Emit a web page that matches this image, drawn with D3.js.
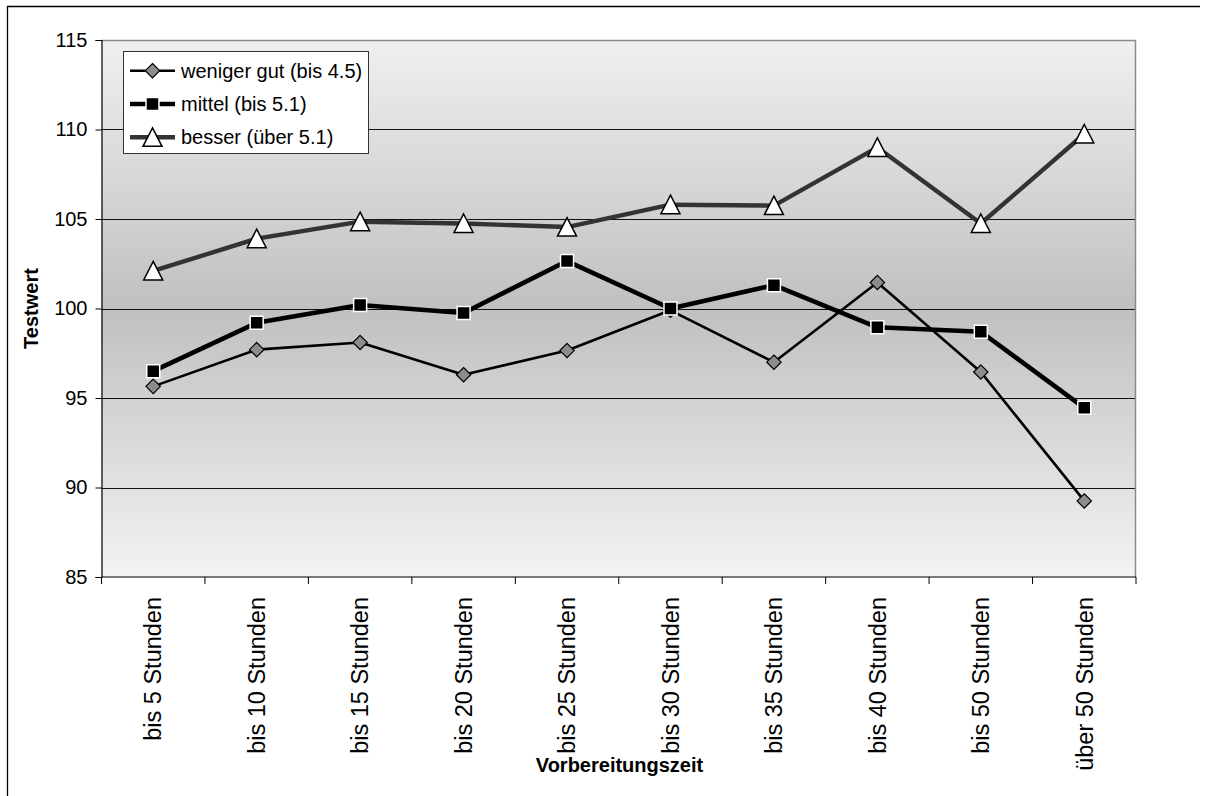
<!DOCTYPE html>
<html>
<head>
<meta charset="utf-8">
<script src="https://cdn.jsdelivr.net/npm/d3@7"></script>
<style>
  html, body { margin: 0; padding: 0; background: #fff; }
  svg { display: block; font-family: "Liberation Sans", Arial, sans-serif; }
</style>
</head>
<body>
<svg id="chart" width="1209" height="796"></svg>
<script>
// Categories (preparation time) and mean test scores per ability group
const categories = ["bis 5 Stunden", "bis 10 Stunden", "bis 15 Stunden", "bis 20 Stunden", "bis 25 Stunden",
                    "bis 30 Stunden", "bis 35 Stunden", "bis 40 Stunden", "bis 50 Stunden", "über 50 Stunden"];
const wenigerGut = [95.65, 97.7, 98.1, 96.3, 97.65, 99.9, 97.0, 101.45, 96.45, 89.25];
const mittel     = [96.5, 99.2, 100.2, 99.75, 102.65, 100.0, 101.3, 98.95, 98.7, 94.45];
const besser     = [102.1, 103.9, 104.85, 104.75, 104.55, 105.8, 105.75, 109.0, 104.75, 109.75];
const seriesNames = ["weniger gut (bis 4.5)", "mittel (bis 5.1)", "besser (über 5.1)"];
const yTicks = [85, 90, 95, 100, 105, 110, 115];
const yTitle = "Testwert";
const xTitle = "Vorbereitungszeit";

const svg = d3.select("#chart");
const plot = { left: 101.5, right: 1136, top: 40, bottom: 577 };

const x = d3.scaleBand().domain(categories).range([plot.left, plot.right]).padding(0);
const y = d3.scaleLinear().domain([85, 115]).range([plot.bottom, plot.top]);
const cx = c => x(c) + x.bandwidth() / 2;

// Outer chart frame (top and left edges)
svg.append("line").attr("x1", 7).attr("y1", 6.5).attr("x2", 1200).attr("y2", 6.5)
  .attr("stroke", "#000").attr("stroke-width", 1.3);
svg.append("line").attr("x1", 7.5).attr("y1", 6).attr("x2", 7.5).attr("y2", 796)
  .attr("stroke", "#000").attr("stroke-width", 1.3);

// Plot-area background: light at the edges, darker in the middle
const defs = svg.append("defs");
const grad = defs.append("linearGradient").attr("id", "bg").attr("x1", 0).attr("y1", 0).attr("x2", 0).attr("y2", 1);
grad.append("stop").attr("offset", "0%").attr("stop-color", "#f0f0f0");
grad.append("stop").attr("offset", "50%").attr("stop-color", "#c0c0c0");
grad.append("stop").attr("offset", "100%").attr("stop-color", "#f3f3f3");

svg.append("rect")
  .attr("x", plot.left).attr("y", plot.top)
  .attr("width", plot.right - plot.left).attr("height", plot.bottom - plot.top)
  .attr("fill", "url(#bg)");

// Gridlines
svg.append("g").selectAll("line").data(yTicks.filter(v => v > 85 && v < 115)).join("line")
  .attr("x1", plot.left).attr("x2", plot.right)
  .attr("y1", d => Math.round(y(d)) + 0.5).attr("y2", d => Math.round(y(d)) + 0.5)
  .attr("stroke", "#111").attr("stroke-width", 1);

// Plot-area border (top / right in gray)
svg.append("path")
  .attr("d", `M${plot.left},${plot.top + 0.5}H${plot.right - 0.5}V${plot.bottom}`)
  .attr("fill", "none").attr("stroke", "#8a8a8a").attr("stroke-width", 1.5);

// Y axis
const yAxis = d3.axisLeft(y).tickValues(yTicks).tickSize(6).tickPadding(8).tickFormat(d3.format("d"));
const gy = svg.append("g").attr("transform", `translate(${plot.left},0)`).call(yAxis);
gy.select(".domain").attr("stroke", "#000").attr("stroke-width", 1.2);
gy.selectAll(".tick line").attr("stroke", "#000");
gy.selectAll(".tick text").attr("font-size", 20).attr("fill", "#000")
  .attr("font-family", "'Liberation Sans', Arial, sans-serif");

// X axis: baseline, ticks at category boundaries
const gx = svg.append("g");
gx.append("line").attr("x1", plot.left).attr("x2", plot.right)
  .attr("y1", plot.bottom).attr("y2", plot.bottom)
  .attr("stroke", "#000").attr("stroke-width", 1.2);
const edges = categories.map(c => x(c)).concat([plot.right]);
gx.selectAll("line.tick").data(edges).join("line").attr("class", "tick")
  .attr("x1", d => d).attr("x2", d => d)
  .attr("y1", plot.bottom).attr("y2", plot.bottom + 7)
  .attr("stroke", "#000").attr("stroke-width", 1);
gx.selectAll("text").data(categories).join("text")
  .attr("transform", d => `translate(${cx(d)},${plot.bottom + 20}) rotate(-90)`)
  .attr("text-anchor", "end").attr("dy", "0.35em")
  .attr("font-size", 23.5).attr("fill", "#000")
  .text(d => d);

// Axis titles
svg.append("text")
  .attr("transform", `translate(31,${(plot.top + plot.bottom) / 2}) rotate(-90)`)
  .attr("text-anchor", "middle").attr("dy", "0.35em")
  .attr("font-size", 20).attr("font-weight", "bold").text(yTitle);
svg.append("text")
  .attr("x", 619.5).attr("y", 772)
  .attr("text-anchor", "middle")
  .attr("font-size", 20).attr("font-weight", "bold").text(xTitle);

// Marker shapes
const diamondPath = "M0,-7.2L7.2,0L0,7.2L-7.2,0Z";
const squarePath = "M-6.5,-6.5H6.5V6.5H-6.5Z";
const trianglePath = "M0,-9.5L9.5,9L-9.5,9Z";

const series = [
  { name: seriesNames[0], values: wenigerGut, line: "#000", width: 2.6,
    marker: diamondPath, fill: "#8c8c8c", stroke: "#000", sw: 1.2 },
  { name: seriesNames[1], values: mittel, line: "#000", width: 4.6,
    marker: squarePath, fill: "#000", stroke: "#fff", sw: 1.5 },
  { name: seriesNames[2], values: besser, line: "#333", width: 4.4,
    marker: trianglePath, fill: "#fff", stroke: "#000", sw: 1.5 }
];

const line = d3.line().x((d, i) => cx(categories[i])).y(d => y(d));

series.forEach(s => {
  const g = svg.append("g");
  g.append("path").datum(s.values).attr("d", line)
    .attr("fill", "none").attr("stroke", s.line).attr("stroke-width", s.width)
    .attr("stroke-linejoin", "round");
  g.selectAll("path.m").data(s.values).join("path").attr("class", "m")
    .attr("transform", (d, i) => `translate(${cx(categories[i])},${y(d)})`)
    .attr("d", s.marker).attr("fill", s.fill).attr("stroke", s.stroke).attr("stroke-width", s.sw);
});

// Legend
const lg = svg.append("g");
lg.append("rect").attr("x", 123.5).attr("y", 51.5).attr("width", 245).attr("height", 102)
  .attr("fill", "#fff").attr("stroke", "#333").attr("stroke-width", 1);
series.forEach((s, i) => {
  const ry = 70.7 + i * 33.3;
  lg.append("line").attr("x1", 130).attr("x2", 175).attr("y1", ry).attr("y2", ry)
    .attr("stroke", s.line).attr("stroke-width", s.width);
  lg.append("path").attr("transform", `translate(152.5,${ry})`)
    .attr("d", s.marker).attr("fill", s.fill).attr("stroke", s.stroke).attr("stroke-width", s.sw);
  lg.append("text").attr("x", 181).attr("y", ry).attr("dy", "0.35em")
    .attr("font-size", 20).attr("fill", "#000").text(s.name);
});
</script>
</body>
</html>
